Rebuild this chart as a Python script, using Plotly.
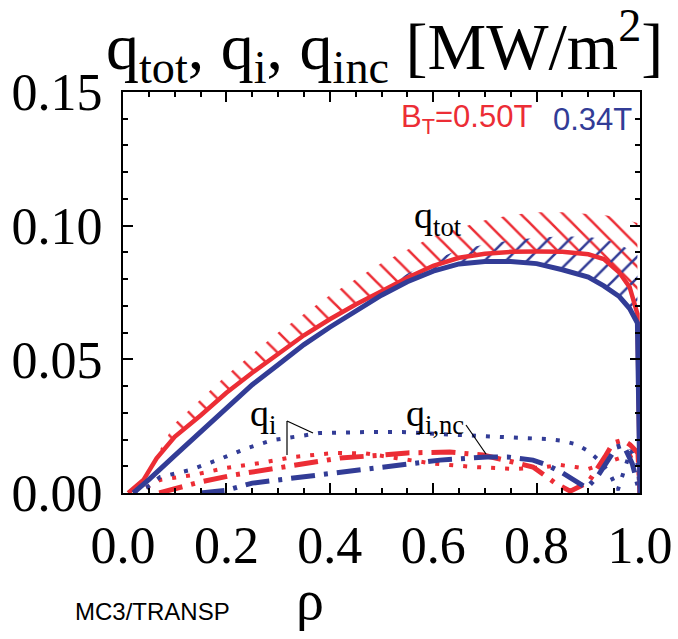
import plotly.graph_objects as go

# ---- colours / fonts ----
RED = "#EC2D35"
BLUE = "#323C96"
SERIF = "Liberation Serif, Times New Roman, serif"
SANS = "Liberation Sans, Arial, sans-serif"

# ---- total heat flux q_tot, B_T = 0.50 T ----
rho_tot_r = [0.01, 0.04, 0.065, 0.10, 0.15, 0.20, 0.25, 0.30, 0.35, 0.40, 0.45, 0.50,
             0.55, 0.60, 0.65, 0.70, 0.75, 0.80, 0.85, 0.90, 0.93, 0.96, 0.98, 0.995, 1.0]
q_tot_r = [0.0, 0.005, 0.013, 0.021, 0.029, 0.0375, 0.045, 0.052, 0.059, 0.065, 0.0705, 0.0755,
           0.0805, 0.085, 0.088, 0.0895, 0.0902, 0.0903, 0.0902, 0.0893, 0.0875, 0.0825, 0.077, 0.067, 0.0]

# upper edge of the 0.50 T uncertainty band
rho_band_r = [0.065, 0.10, 0.15, 0.20, 0.25, 0.30, 0.35, 0.40, 0.45, 0.50, 0.55, 0.60,
              0.65, 0.70, 0.75, 0.80, 0.85, 0.90, 0.93, 0.96, 0.98, 0.995]
q_band_lo_r = [0.013, 0.021, 0.029, 0.0375, 0.045, 0.052, 0.059, 0.065, 0.0705, 0.0755, 0.0805, 0.085,
               0.088, 0.0895, 0.0902, 0.0903, 0.0902, 0.0893, 0.0875, 0.0825, 0.077, 0.067]
q_band_hi_r = [0.014, 0.026, 0.035, 0.044, 0.052, 0.060, 0.067, 0.074, 0.080, 0.086, 0.091, 0.096,
               0.099, 0.102, 0.104, 0.105, 0.105, 0.1045, 0.104, 0.103, 0.102, 0.101]

# ---- total heat flux q_tot, B_T = 0.34 T ----
rho_tot_b = [0.02, 0.05, 0.10, 0.15, 0.20, 0.25, 0.30, 0.35, 0.40, 0.45, 0.50, 0.55, 0.60,
             0.65, 0.70, 0.75, 0.80, 0.85, 0.90, 0.93, 0.96, 0.98, 0.995, 1.0]
q_tot_b = [0.0, 0.005, 0.014, 0.023, 0.032, 0.0405, 0.048, 0.0555, 0.062, 0.068, 0.074, 0.079, 0.083,
           0.0857, 0.0866, 0.0866, 0.0858, 0.0835, 0.0808, 0.0775, 0.0735, 0.069, 0.0636, 0.0]

# upper edge of the 0.34 T uncertainty band
rho_band_b = [0.45, 0.50, 0.55, 0.60, 0.65, 0.70, 0.75, 0.80, 0.85, 0.90, 0.93, 0.96, 0.98, 0.995]
q_band_lo_b = [0.068, 0.074, 0.079, 0.083, 0.0857, 0.0866, 0.0866, 0.0858, 0.0835, 0.0808, 0.0775,
               0.0735, 0.069, 0.0636]
q_band_hi_b = [0.069, 0.076, 0.082, 0.087, 0.091, 0.093, 0.0945, 0.0955, 0.096, 0.0958, 0.095,
               0.093, 0.091, 0.089]

# ---- ion heat flux q_i ----
rho_i_b = [0.02, 0.047, 0.072, 0.13, 0.182, 0.24, 0.29, 0.33, 0.38, 0.47, 0.54, 0.65, 0.71, 0.77,
           0.82, 0.85, 0.875, 0.90, 0.92, 0.94, 0.957, 0.97, 0.982, 0.995, 1.0]
q_i_b = [0.0, 0.0022, 0.006, 0.0086, 0.0123, 0.0168, 0.0198, 0.021, 0.0224, 0.0228, 0.0228, 0.0217,
         0.021, 0.0206, 0.0202, 0.0195, 0.0183, 0.0157, 0.0123, 0.0079, 0.0011, 0.009, 0.016, 0.011, 0.0]

rho_i_r = [0.045, 0.072, 0.135, 0.20, 0.265, 0.33, 0.41, 0.47, 0.53, 0.60, 0.68, 0.76, 0.81, 0.845,
           0.875, 0.90, 0.93, 0.96, 0.985, 0.997, 1.0]
q_i_r = [0.002, 0.0049, 0.0067, 0.0094, 0.0112, 0.0135, 0.015, 0.0148, 0.013, 0.011, 0.0097, 0.009,
         0.0095, 0.0105, 0.0097, 0.009, 0.011, 0.013, 0.014, 0.015, 0.0]

# ---- neoclassical ion heat flux q_i,nc ----
rho_nc_r = [0.07, 0.149, 0.213, 0.279, 0.356, 0.42, 0.503, 0.55, 0.632, 0.696, 0.754, 0.793, 0.82,
            0.836, 0.865, 0.90, 0.932, 0.948, 0.967, 0.981, 0.996, 1.0]
q_nc_r = [0.0, 0.0041, 0.0067, 0.0086, 0.0112, 0.0131, 0.0142, 0.015, 0.0153, 0.0142, 0.0116, 0.0097,
          0.006, 0.0037, 0.0007, 0.004, 0.0135, 0.0187, 0.0198, 0.018, 0.015, 0.0]

rho_nc_b = [0.15, 0.20, 0.25, 0.33, 0.426, 0.516, 0.613, 0.704, 0.743, 0.793, 0.82, 0.85, 0.878,
            0.897, 0.917, 0.938, 0.955, 0.968, 0.985, 1.0]
q_nc_b = [0.0, 0.001, 0.0037, 0.0056, 0.0075, 0.0097, 0.0123, 0.0135, 0.0135, 0.0123, 0.0105, 0.0075,
          0.0041, 0.0019, 0.006, 0.0123, 0.0172, 0.018, 0.011, 0.0]

# ---- axes ----
x_ticks = [0.0, 0.2, 0.4, 0.6, 0.8, 1.0]
x_ticklabels = ["0.0", "0.2", "0.4", "0.6", "0.8", "1.0"]
y_ticks = [0.0, 0.05, 0.10, 0.15]
y_ticklabels = ["0.00", "0.05", "0.10", "0.15"]

fig = go.Figure()


def hatch_band(rho, lo, hi, color, shape):
    fig.add_trace(go.Scatter(x=rho, y=lo, mode="lines", line=dict(width=0),
                             showlegend=False, hoverinfo="skip"))
    fig.add_trace(go.Scatter(x=rho, y=hi, mode="lines", line=dict(width=0),
                             fill="tonexty",
                             fillpattern=dict(shape=shape, fgcolor=color, fgopacity=1,
                                              bgcolor="rgba(255,255,255,0)",
                                              size=15, solidity=0.17),
                             showlegend=False, hoverinfo="skip"))


# hatched uncertainty bands
hatch_band(rho_band_r, q_band_lo_r, q_band_hi_r, RED, "\\")
hatch_band(rho_band_b, q_band_lo_b, q_band_hi_b, BLUE, "/")

DOT = "4px,10px"
DASHDOT = "24px,9px,4px,9px"

# ion and neoclassical fluxes
fig.add_trace(go.Scatter(x=rho_i_r, y=q_i_r, mode="lines",
                         line=dict(color=RED, width=4, dash=DOT), showlegend=False))
fig.add_trace(go.Scatter(x=rho_i_b, y=q_i_b, mode="lines",
                         line=dict(color=BLUE, width=4, dash=DOT), showlegend=False))
fig.add_trace(go.Scatter(x=rho_nc_r, y=q_nc_r, mode="lines",
                         line=dict(color=RED, width=5, dash=DASHDOT), showlegend=False))
fig.add_trace(go.Scatter(x=rho_nc_b, y=q_nc_b, mode="lines",
                         line=dict(color=BLUE, width=5, dash=DASHDOT), showlegend=False))

# total fluxes
fig.add_trace(go.Scatter(x=rho_tot_r, y=q_tot_r, mode="lines",
                         line=dict(color=RED, width=4.5), showlegend=False))
fig.add_trace(go.Scatter(x=rho_tot_b, y=q_tot_b, mode="lines",
                         line=dict(color=BLUE, width=5), showlegend=False))

# plot-area geometry in pixels (for labels outside the axes)
L, R, T, B = 123, 640, 92, 493
W, H = 678, 639


def paper_x(px):
    return (px - L) / (R - L)


def paper_y(py):
    return (B - py) / (B - T)


annotations = [
    dict(text="q<sub>tot</sub>, q<sub>i</sub>, q<sub>inc</sub> [MW/m<sup>2</sup>]",
         x=paper_x(384), y=paper_y(46), font=dict(family=SERIF, size=66, color="black")),
    dict(text="B<sub>T</sub>=0.50T", x=paper_x(534), y=paper_y(119), xanchor="right",
         font=dict(family=SANS, size=31, color=RED)),
    dict(text="0.34T", x=paper_x(551), y=paper_y(119), xanchor="left",
         font=dict(family=SANS, size=31, color=BLUE)),
    dict(text="q<sub>tot</sub>", x=paper_x(438), y=paper_y(218),
         font=dict(family=SERIF, size=38, color="black")),
    dict(text="q<sub>i</sub>", x=paper_x(263), y=paper_y(416),
         font=dict(family=SERIF, size=38, color="black")),
    dict(text="q<sub>i,nc</sub>", x=paper_x(435), y=paper_y(416),
         font=dict(family=SERIF, size=38, color="black")),
    dict(text="ρ", x=paper_x(310), y=paper_y(600),
         font=dict(family=SERIF, size=56, color="black")),
    dict(text="MC3/TRANSP", x=paper_x(152), y=paper_y(611),
         font=dict(family=SANS, size=24, color="black")),
]
for a in annotations:
    a.update(xref="paper", yref="paper", showarrow=False)
    a.setdefault("xanchor", "center")
    a.setdefault("yanchor", "middle")

# leader lines for the q_i and q_i,nc labels
shapes = [
    dict(type="line", x0=paper_x(287), y0=paper_y(421), x1=paper_x(287), y1=paper_y(455)),
    dict(type="line", x0=paper_x(287), y0=paper_y(421), x1=paper_x(313), y1=paper_y(433)),
    dict(type="line", x0=paper_x(466), y0=paper_y(425), x1=paper_x(486), y1=paper_y(454)),
]
for s in shapes:
    s.update(xref="paper", yref="paper", line=dict(color="black", width=1.2))

axis_common = dict(showline=True, linecolor="black", linewidth=2, mirror="ticks",
                   ticks="inside", tickcolor="black", tickwidth=2, ticklen=10,
                   showgrid=False, zeroline=False, automargin=False,
                   tickfont=dict(family=SERIF, size=52, color="black"))

fig.update_layout(
    width=W, height=H, autosize=False,
    margin=dict(l=L, r=W - R, t=T, b=H - B, pad=0, autoexpand=False),
    paper_bgcolor="white", plot_bgcolor="white",
    xaxis=dict(range=[0, 1], tickvals=x_ticks, ticktext=x_ticklabels,
               minor=dict(dtick=0.05, ticklen=5, tickwidth=2, tickcolor="black", ticks="inside"),
               ticklabelstandoff=6, **axis_common),
    yaxis=dict(range=[0, 0.15], tickvals=y_ticks, ticktext=y_ticklabels,
               minor=dict(dtick=0.01, ticklen=5, tickwidth=2, tickcolor="black", ticks="inside"),
               ticklabelstandoff=8, **axis_common),
    annotations=annotations,
    shapes=shapes,
)

fig.write_html("out.html")
